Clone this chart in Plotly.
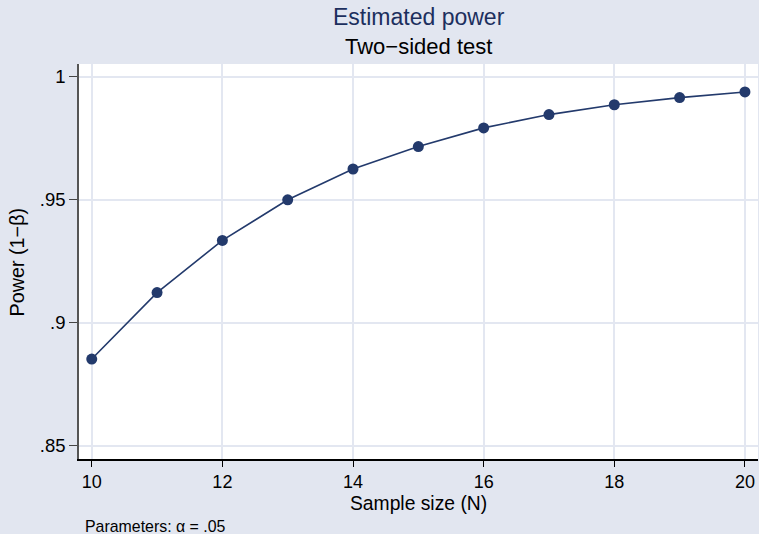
import plotly.graph_objects as go

# Data
sample_size = [10, 11, 12, 13, 14, 15, 16, 17, 18, 19, 20]
power = [0.8853, 0.9123, 0.9335, 0.9500, 0.9625, 0.9716, 0.9792, 0.9846, 0.9886, 0.9915, 0.9938]

x_ticks = [10, 12, 14, 16, 18, 20]
y_ticks = [0.85, 0.90, 0.95, 1.0]
y_tick_labels = [".85", ".9", ".95", "1"]

title_text = "Estimated power"
subtitle_text = "Two\u2212sided test"
x_title = "Sample size (N)"
y_title = "Power (1\u2212\u03b2)"
note_text = "Parameters: \u03b1 = .05"

BG = "#e2e6f0"
GRID = "#e3e7f1"
NAVY = "#233a6c"
FONT = "Liberation Sans, Arial, sans-serif"

fig = go.Figure()
fig.add_trace(go.Scatter(
    x=sample_size, y=power, mode="lines+markers",
    line=dict(color=NAVY, width=1.6),
    marker=dict(color=NAVY, size=11),
    showlegend=False, hoverinfo="x+y",
))

fig.update_layout(
    width=759, height=534,
    margin=dict(l=79, r=1, t=64, b=75),
    paper_bgcolor=BG, plot_bgcolor="white",
    font=dict(family=FONT, size=18, color="black"),
    showlegend=False,
    xaxis=dict(
        range=[9.805, 20.2], tickvals=x_ticks, ticks="outside", ticklen=6,
        tickcolor="black", tickwidth=1, showline=True, linecolor="black", linewidth=1.5,
        showgrid=True, gridcolor=GRID, gridwidth=2, zeroline=False,
        tickfont=dict(size=18),
    ),
    yaxis=dict(
        range=[0.8447, 1.00515], tickvals=y_ticks, ticktext=y_tick_labels,
        ticks="outside", ticklen=8, tickcolor="#444", tickwidth=1,
        showline=True, linecolor="#555", linewidth=1.5,
        showgrid=True, gridcolor=GRID, gridwidth=2, zeroline=False,
        tickfont=dict(size=18.5),
    ),
    annotations=[
        dict(text=title_text, xref="paper", yref="paper", x=0.5, y=1.119,
             xanchor="center", yanchor="middle", showarrow=False,
             font=dict(size=23, color="#1c2f5e")),
        dict(text=subtitle_text, xref="paper", yref="paper", x=0.5, y=1.0438,
             xanchor="center", yanchor="middle", showarrow=False,
             font=dict(size=22, color="black")),
        dict(text=x_title, xref="paper", yref="paper", x=0.5, y=-0.1135,
             xanchor="center", yanchor="middle", showarrow=False,
             font=dict(size=19.3, color="black")),
        dict(text=y_title, xref="paper", yref="paper", x=-0.0918, y=0.499,
             xanchor="center", yanchor="middle", showarrow=False, textangle=-90,
             font=dict(size=19.8, color="black")),
        dict(text=note_text, xref="paper", yref="paper", x=0.006, y=-0.172,
             xanchor="left", yanchor="middle", showarrow=False,
             font=dict(size=15.9, color="black")),
    ],
)

fig.write_html(
    "out.html",
    config={"displayModeBar": False},
    post_script="document.body.style.margin='0';document.body.style.overflow='hidden';",
)
